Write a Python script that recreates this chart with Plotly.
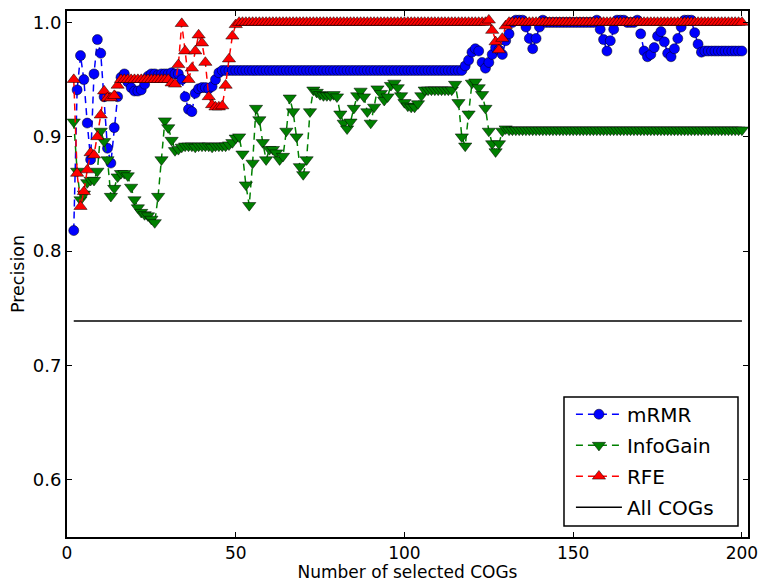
import plotly.graph_objects as go

# x positions: number of selected COGs
n_cogs = list(range(2, 201))

mrmr = [
    0.818, 0.941, 0.971, 0.950, 0.912, 0.880, 0.955, 0.985, 0.973, 0.935,  # 2-11
    0.890, 0.877, 0.908, 0.935, 0.952, 0.955, 0.948, 0.943, 0.940, 0.940,  # 12-21
    0.941, 0.946, 0.953, 0.955, 0.955, 0.954, 0.955, 0.955, 0.955, 0.956,  # 22-31
    0.955, 0.955, 0.950, 0.935, 0.924, 0.922, 0.938, 0.942, 0.943, 0.943,  # 32-41
    0.942, 0.944, 0.950, 0.956, 0.958, 0.958, 0.958, 0.958, 0.958, 0.958,  # 42-51
    0.958, 0.958, 0.958, 0.958, 0.958, 0.958, 0.958, 0.958, 0.958, 0.958,  # 52-61
    0.958, 0.958, 0.958, 0.958, 0.958, 0.958, 0.958, 0.958, 0.958, 0.958,  # 62-71
    0.958, 0.958, 0.958, 0.958, 0.958, 0.958, 0.958, 0.958, 0.958, 0.958,  # 72-81
    0.958, 0.958, 0.958, 0.958, 0.958, 0.958, 0.958, 0.958, 0.958, 0.958,  # 82-91
    0.958, 0.958, 0.958, 0.958, 0.958, 0.958, 0.958, 0.958, 0.958, 0.958,  # 92-101
    0.958, 0.958, 0.958, 0.958, 0.958, 0.958, 0.958, 0.958, 0.958, 0.958,  # 102-111
    0.958, 0.958, 0.958, 0.958, 0.958, 0.958, 0.962, 0.967, 0.974, 0.977,  # 112-121
    0.975, 0.965, 0.960, 0.965, 0.972, 0.978, 0.976, 0.972, 0.984, 0.990,  # 122-131
    1.000, 1.002, 1.002, 1.002, 0.996, 0.986, 0.977, 0.986, 0.996, 1.002,  # 132-141
    1.000, 1.000, 1.000, 1.000, 1.000, 1.000, 1.000, 1.000, 1.000, 1.000,  # 142-151
    1.000, 1.000, 1.000, 1.000, 1.000, 1.002, 0.994, 0.985, 0.975, 0.984,  # 152-161
    0.994, 1.002, 1.002, 1.002, 1.000, 1.000, 1.000, 1.002, 0.990, 0.975,  # 162-171
    0.970, 0.972, 0.978, 0.988, 0.992, 0.983, 0.973, 0.970, 0.977, 0.986,  # 172-181
    0.996, 1.002, 1.002, 1.002, 0.991, 0.981, 0.974, 0.975, 0.975, 0.975,  # 182-191
    0.975, 0.975, 0.975, 0.975, 0.975, 0.975, 0.975, 0.975, 0.975,         # 192-200
]

infogain = [
    0.913, 0.870, 0.845, 0.850, 0.860, 0.862, 0.862, 0.870, 0.905, 0.896,  # 2-11
    0.880, 0.848, 0.855, 0.865, 0.868, 0.868, 0.866, 0.856, 0.845, 0.838,  # 12-21
    0.834, 0.832, 0.831, 0.828, 0.825, 0.848, 0.880, 0.914, 0.908, 0.897,  # 22-31
    0.888, 0.889, 0.891, 0.892, 0.892, 0.892, 0.891, 0.892, 0.892, 0.892,  # 32-41
    0.892, 0.891, 0.892, 0.892, 0.892, 0.892, 0.893, 0.895, 0.899, 0.900,  # 42-51
    0.885, 0.858, 0.840, 0.877, 0.925, 0.915, 0.895, 0.880, 0.889, 0.889,  # 52-61
    0.886, 0.880, 0.883, 0.905, 0.934, 0.922, 0.900, 0.874, 0.867, 0.880,  # 62-71
    0.922, 0.941, 0.939, 0.937, 0.936, 0.936, 0.936, 0.937, 0.935, 0.920,  # 72-81
    0.912, 0.907, 0.913, 0.925, 0.936, 0.940, 0.935, 0.922, 0.912, 0.926,  # 82-91
    0.942, 0.938, 0.932, 0.935, 0.945, 0.947, 0.943, 0.936, 0.930, 0.927,  # 92-101
    0.926, 0.926, 0.929, 0.936, 0.941, 0.941, 0.941, 0.941, 0.941, 0.941,  # 102-111
    0.941, 0.941, 0.941, 0.946, 0.930, 0.900, 0.892, 0.920, 0.947, 0.948,  # 112-121
    0.943, 0.937, 0.925, 0.905, 0.894, 0.887, 0.894, 0.905, 0.907, 0.906,  # 122-131
    0.906, 0.906, 0.906, 0.906, 0.906, 0.906, 0.906, 0.906, 0.906, 0.906,  # 132-141
    0.906, 0.906, 0.906, 0.906, 0.906, 0.906, 0.906, 0.906, 0.906, 0.906,  # 142-151
    0.906, 0.906, 0.906, 0.906, 0.906, 0.906, 0.906, 0.906, 0.906, 0.906,  # 152-161
    0.906, 0.906, 0.906, 0.906, 0.906, 0.906, 0.906, 0.906, 0.906, 0.906,  # 162-171
    0.906, 0.906, 0.906, 0.906, 0.906, 0.906, 0.906, 0.906, 0.906, 0.906,  # 172-181
    0.906, 0.906, 0.906, 0.906, 0.906, 0.906, 0.906, 0.906, 0.906, 0.906,  # 182-191
    0.906, 0.906, 0.906, 0.906, 0.906, 0.906, 0.906, 0.906, 0.906,         # 192-200
]

rfe = [
    0.950, 0.868, 0.839, 0.852, 0.871, 0.886, 0.884, 0.900, 0.919, 0.940,  # 2-11
    0.934, 0.934, 0.936, 0.945, 0.950, 0.950, 0.950, 0.950, 0.950, 0.950,  # 12-21
    0.950, 0.950, 0.950, 0.950, 0.950, 0.950, 0.950, 0.950, 0.950, 0.947,  # 22-31
    0.946, 0.963, 0.999, 0.975, 0.950, 0.960, 0.975, 0.989, 0.982, 0.965,  # 32-41
    0.935, 0.928, 0.926, 0.926, 0.927, 0.945, 0.968, 0.988, 0.998, 1.000,  # 42-51
    1.000, 1.000, 1.000, 1.000, 1.000, 1.000, 1.000, 1.000, 1.000, 1.000,  # 52-61
    1.000, 1.000, 1.000, 1.000, 1.000, 1.000, 1.000, 1.000, 1.000, 1.000,  # 62-71
    1.000, 1.000, 1.000, 1.000, 1.000, 1.000, 1.000, 1.000, 1.000, 1.000,  # 72-81
    1.000, 1.000, 1.000, 1.000, 1.000, 1.000, 1.000, 1.000, 1.000, 1.000,  # 82-91
    1.000, 1.000, 1.000, 1.000, 1.000, 1.000, 1.000, 1.000, 1.000, 1.000,  # 92-101
    1.000, 1.000, 1.000, 1.000, 1.000, 1.000, 1.000, 1.000, 1.000, 1.000,  # 102-111
    1.000, 1.000, 1.000, 1.000, 1.000, 1.000, 1.000, 1.000, 1.000, 1.000,  # 112-121
    1.000, 1.000, 1.000, 1.002, 0.993, 0.983, 0.976, 0.986, 0.997, 1.000,  # 122-131
    1.000, 1.000, 1.000, 1.000, 1.000, 1.000, 1.000, 1.000, 1.000, 1.000,  # 132-141
    1.000, 1.000, 1.000, 1.000, 1.000, 1.000, 1.000, 1.000, 1.000, 1.000,  # 142-151
    1.000, 1.000, 1.000, 1.000, 1.000, 1.000, 1.000, 1.000, 1.000, 1.000,  # 152-161
    1.000, 1.000, 1.000, 1.000, 1.000, 1.000, 1.000, 1.000, 1.000, 1.000,  # 162-171
    1.000, 1.000, 1.000, 1.000, 1.000, 1.000, 1.000, 1.000, 1.000, 1.000,  # 172-181
    1.000, 1.000, 1.000, 1.000, 1.000, 1.000, 1.000, 1.000, 1.000, 1.000,  # 182-191
    1.000, 1.000, 1.000, 1.000, 1.000, 1.000, 1.000, 1.000, 1.000,         # 192-200
]

all_cogs_x = [2, 200]
all_cogs_y = [0.739, 0.739]

x_ticks = [0, 50, 100, 150, 200]
y_ticks = [0.6, 0.7, 0.8, 0.9, 1.0]
y_ticktext = ["0.6", "0.7", "0.8", "0.9", "1.0"]

FONT = "DejaVu Sans"

fig = go.Figure()

series = [
    ("mRMR", mrmr, "#0000ff", "circle", 10),
    ("InfoGain", infogain, "#008000", "triangle-down", 11.5),
    ("RFE", rfe, "#ff0000", "triangle-up", 11.5),
]
for name, ys, col, sym, sz in series:
    fig.add_trace(go.Scatter(
        x=n_cogs, y=ys, name=name, legendgroup=name,
        mode="lines+markers",
        line=dict(color=col, width=1.5, dash="7px,5px"),
        marker=dict(symbol=sym, size=sz, color=col,
                    line=dict(color="black", width=0.5)),
    ))

fig.add_trace(go.Scatter(
    x=all_cogs_x, y=all_cogs_y, name="All COGs", legendgroup="All COGs",
    mode="lines", line=dict(color="black", width=1.5),
))

axis_common = dict(
    showline=True, linecolor="black", linewidth=2, mirror="ticks",
    ticks="inside", ticklen=5, tickwidth=1, tickcolor="black",
    showgrid=False, zeroline=False, automargin=False,
)

# legend frame (drawn as a rectangle in paper coordinates)
fig.add_shape(type="rect", xref="paper", yref="paper",
              x0=0.7298, x1=0.9853, y0=0.0209, y1=0.2662,
              line=dict(color="black", width=1.5), fillcolor="white",
              layer="below")

fig.update_layout(
    width=761, height=582,
    margin=dict(l=67, r=13, t=11, b=45),
    paper_bgcolor="white", plot_bgcolor="white",
    font=dict(family=FONT, size=17, color="black"),
    xaxis=dict(range=[0, 201.8], tickvals=x_ticks,
               tickfont=dict(family=FONT, size=17, color="black"),
               title=dict(text="Number of selected COGs", standoff=4,
                          font=dict(family=FONT, size=17)),
               **axis_common),
    yaxis=dict(range=[0.55, 1.01], tickvals=y_ticks, ticktext=y_ticktext,
               tickfont=dict(family=FONT, size=18, color="black"),
               title=dict(text="Precision", standoff=4,
                          font=dict(family=FONT, size=17.5)),
               **axis_common),
    legend=dict(x=0.7400, y=0.2705, xanchor="left", yanchor="top",
                bgcolor="rgba(0,0,0,0)", borderwidth=0,
                font=dict(family=FONT, size=20), tracegroupgap=2,
                itemwidth=46),
    showlegend=True,
)

fig.write_html("out.html")
